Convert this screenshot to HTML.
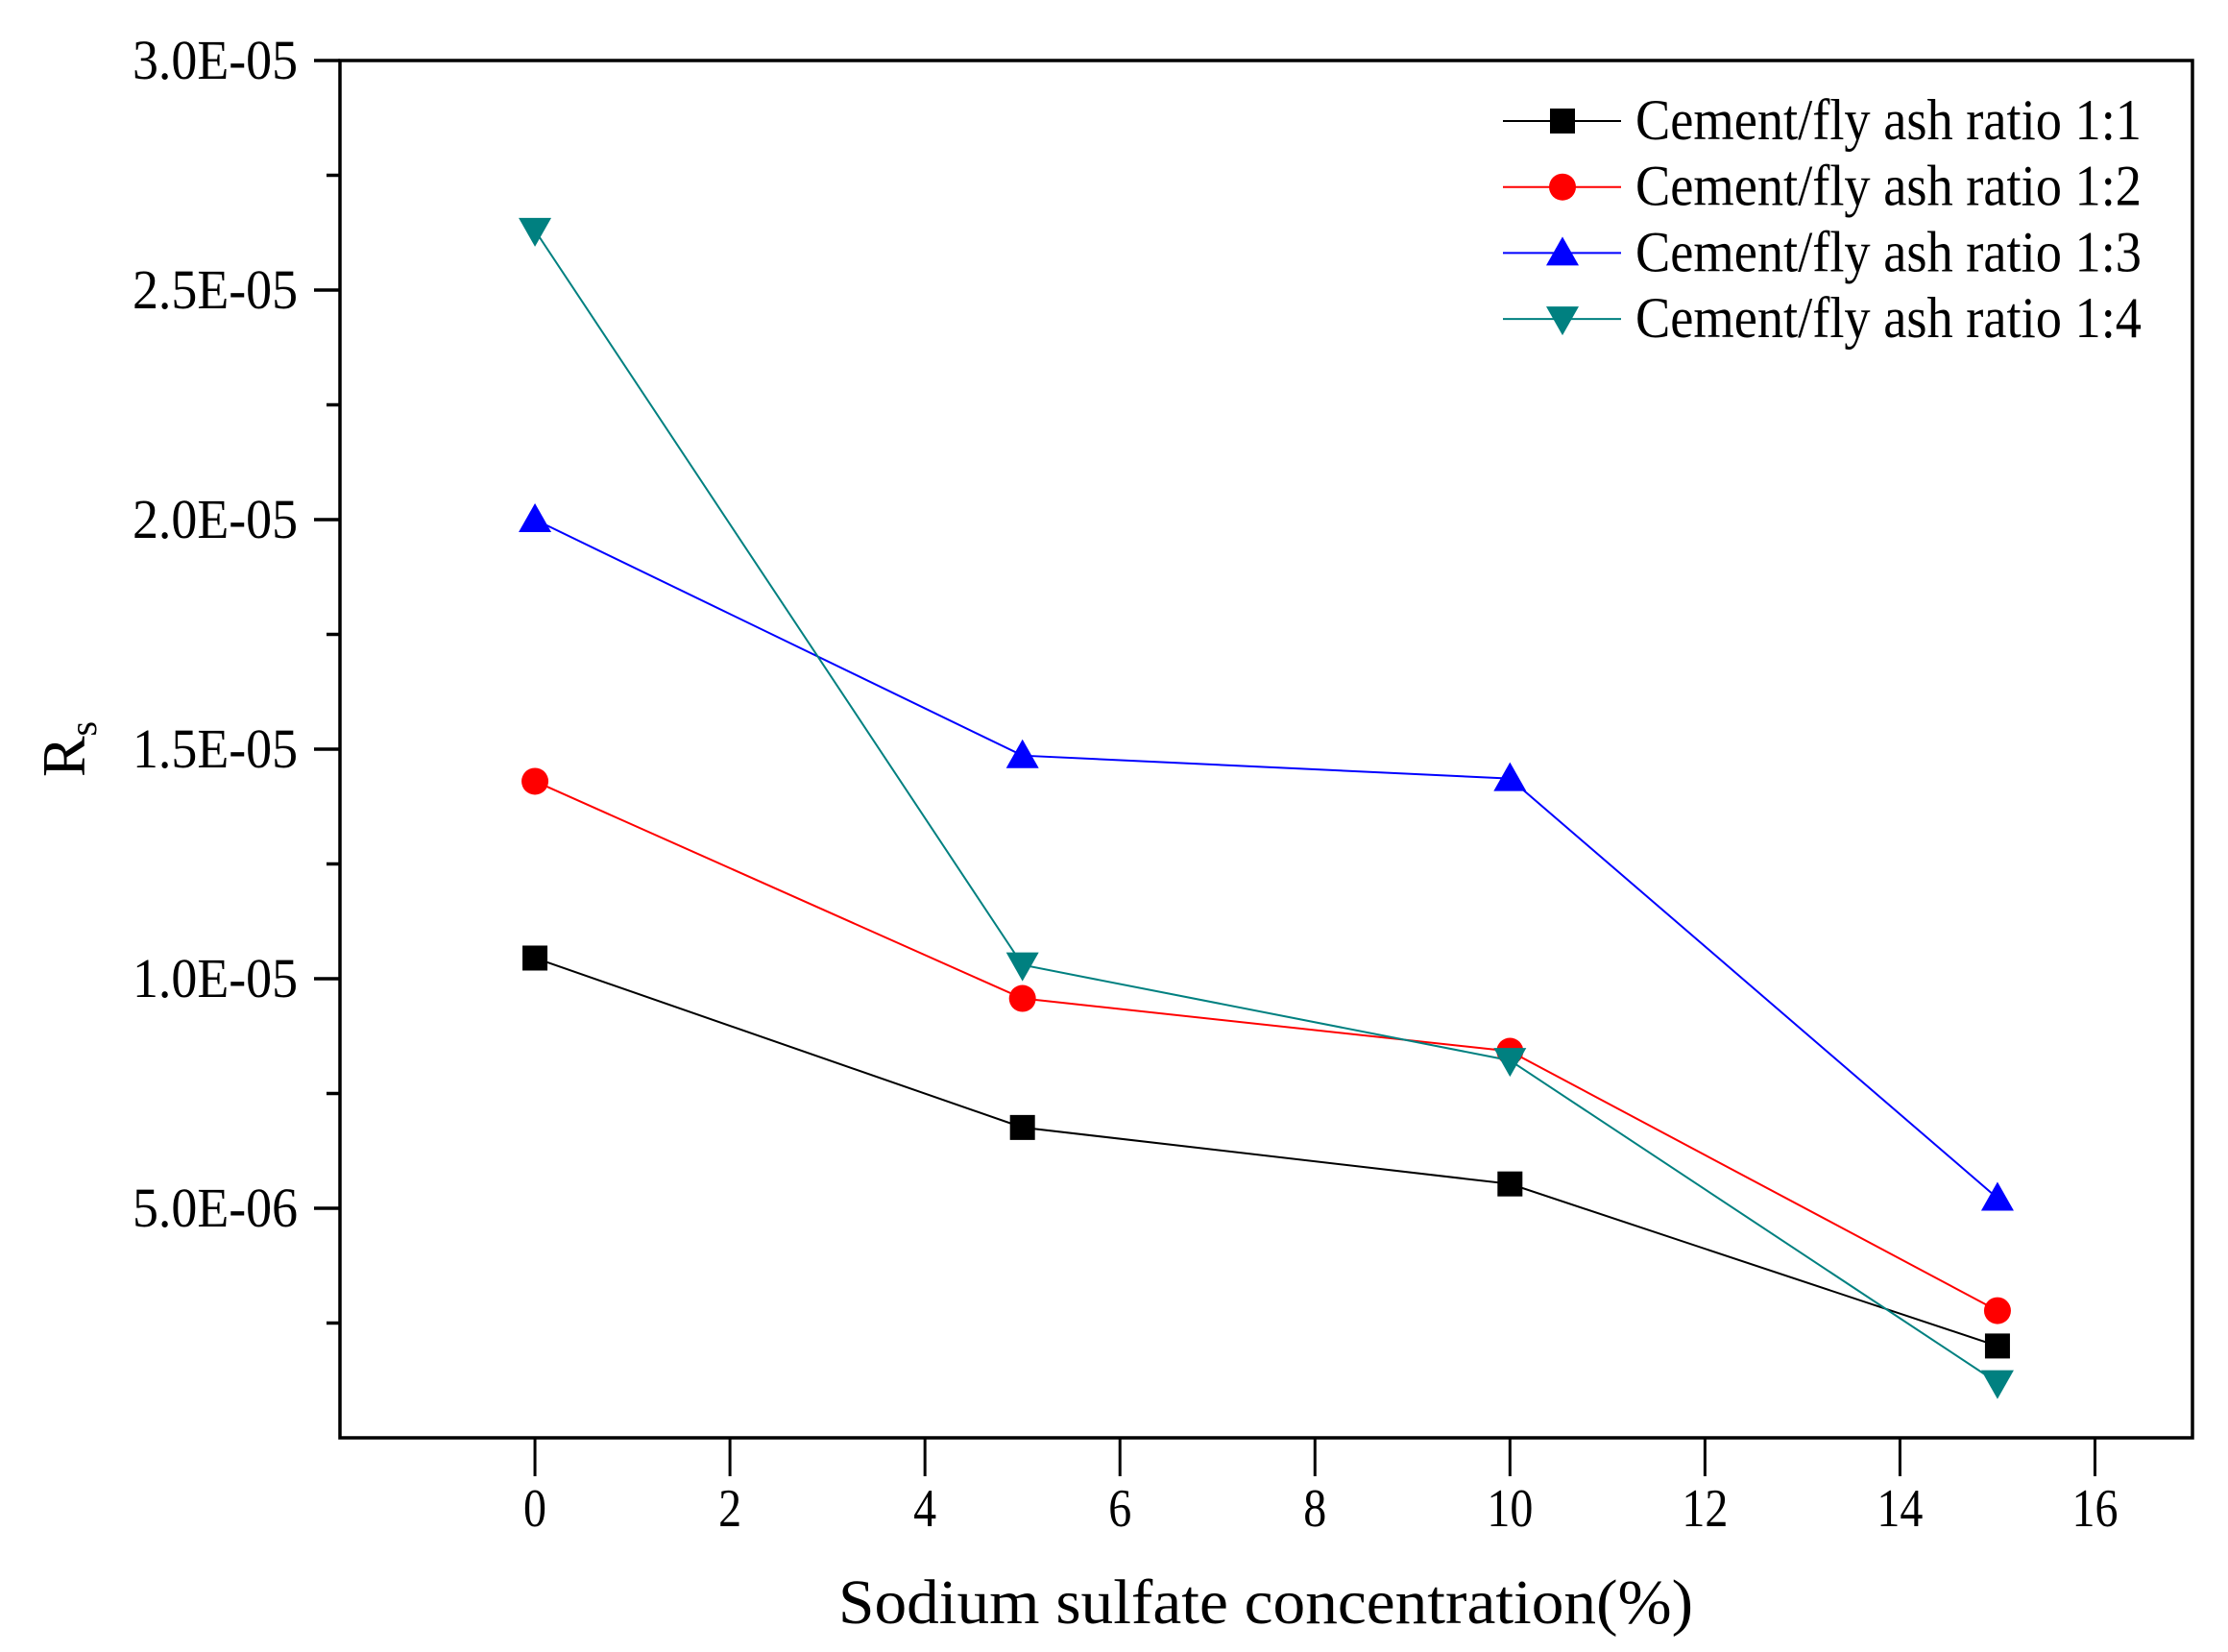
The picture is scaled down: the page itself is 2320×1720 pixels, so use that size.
<!DOCTYPE html>
<html><head><meta charset="utf-8"><style>
html,body{margin:0;padding:0;background:#fff}
svg{display:block}
text{font-family:"Liberation Serif",serif;fill:#000}
</style></head><body>
<svg id="chart" width="2320" height="1720" viewBox="0 0 2320 1720" xmlns="http://www.w3.org/2000/svg">
<g id="axes"></g>
<g id="series"></g>
<g id="legend"></g>
<text x="1318" y="1690" font-size="66" text-anchor="middle" textLength="890" lengthAdjust="spacingAndGlyphs">Sodium sulfate concentration(%)</text>
<text transform="translate(88,780) rotate(-90)" font-size="64" text-anchor="middle">R<tspan font-size="40" dy="12">s</tspan></text>
</svg>
<script>
const xCategories = [0, 5, 10, 15];
const seriesNames = ["Cement/fly ash ratio 1:1","Cement/fly ash ratio 1:2","Cement/fly ash ratio 1:3","Cement/fly ash ratio 1:4"];
const series11 = [1.045e-5, 0.676e-5, 0.553e-5, 0.20e-5];
const series12 = [1.43e-5, 0.957e-5, 0.842e-5, 0.277e-5];
const series13 = [2.0e-5, 1.486e-5, 1.436e-5, 0.522e-5];
const series14 = [2.63e-5, 1.03e-5, 0.822e-5, 0.12e-5];
const xTicks = [0, 2, 4, 6, 8, 10, 12, 14, 16];
const yTicks = [0.5e-5, 1.0e-5, 1.5e-5, 2.0e-5, 2.5e-5, 3.0e-5];
const yTickLabels = ["5.0E-06","1.0E-05","1.5E-05","2.0E-05","2.5E-05","3.0E-05"];

const NS = "http://www.w3.org/2000/svg";
const L = 354, R = 2283, T = 63, B = 1497;
const xMin = -2, xMax = 17, yMin = 0, yMax = 3e-5;
const xs = v => L + (v - xMin) / (xMax - xMin) * (R - L);
const ys = v => B - (v - yMin) / (yMax - yMin) * (B - T);
function mk(tag, attrs, parent) { const e = document.createElementNS(NS, tag); for (const k in attrs) e.setAttribute(k, attrs[k]); parent.appendChild(e); return e; }

const axes = document.getElementById('axes');
const frame = mk('rect', {x:L, y:T, width:R-L, height:B-T, fill:'none', stroke:'#000', 'stroke-width':3.5}, axes);


xTicks.forEach(t => {
  const x = xs(t);
  const tk = mk('line', {x1:x, x2:x, y1:B, y2:B+40, stroke:'#000', 'stroke-width':3}, axes);
  
  
  const s = String(t);
  const lb = mk('text', {x:x, y:B+92, 'font-size':56, 'text-anchor':'middle', textLength:24*s.length, lengthAdjust:'spacingAndGlyphs'}, axes);
  lb.textContent = s;
  
  
});
yTicks.forEach((t, i) => {
  const y = ys(t);
  const tk = mk('line', {x1:L-27, x2:L, y1:y, y2:y, stroke:'#000', 'stroke-width':3.5}, axes);
  
  
  const mn = mk('line', {x1:L-14, x2:L, y1:ys(t-0.25e-5), y2:ys(t-0.25e-5), stroke:'#000', 'stroke-width':3.5}, axes);
  
  
  const lb = mk('text', {x:L-44, y:y+19, 'font-size':58, 'text-anchor':'end', textLength:172, lengthAdjust:'spacingAndGlyphs'}, axes);
  lb.textContent = yTickLabels[i];
  
  
});

const colors = ['#000000', '#ff0000', '#0000ff', '#008080'];
const shapes = ['square', 'circle', 'up', 'down'];
const allSeries = [series11, series12, series13, series14];
function marker(shape, cx, cy, color, parent) {
  let m;
  if (shape === 'square') m = mk('rect', {x:cx-13, y:cy-13, width:26, height:26, fill:color}, parent);
  else if (shape === 'circle') m = mk('circle', {cx:cx, cy:cy, r:14, fill:color}, parent);
  else if (shape === 'up') m = mk('polygon', {points:`${cx},${cy-17} ${cx-17},${cy+13} ${cx+17},${cy+13}`, fill:color}, parent);
  else m = mk('polygon', {points:`${cx},${cy+17} ${cx-17},${cy-13} ${cx+17},${cy-13}`, fill:color}, parent);
  return m;
}
const sg = document.getElementById('series');
allSeries.forEach((vals, si) => {
  const g = mk('g', {}, sg);
  
  
  const pts = vals.map((v, i) => xs(xCategories[i]) + ',' + ys(v)).join(' ');
  const pl = mk('polyline', {points:pts, fill:'none', stroke:colors[si], 'stroke-width':2}, g);
  
  
  vals.forEach((v, i) => {
    const m = marker(shapes[si], xs(xCategories[i]), ys(v), colors[si], g);
    
    
  });
});

const lg = document.getElementById('legend');
seriesNames.forEach((n, i) => {
  const y = 126 + i * 68.7;
  const g = mk('g', {}, lg);
  
  
  mk('line', {x1:1565, x2:1688, y1:y, y2:y, stroke:colors[i], 'stroke-width':2}, g);
  marker(shapes[i], 1627, y, colors[i], g);
  const t = mk('text', {x:1703, y:y+19, 'font-size':60, textLength:527, lengthAdjust:'spacingAndGlyphs'}, g);
  t.textContent = n;
});
</script>
</body></html>
